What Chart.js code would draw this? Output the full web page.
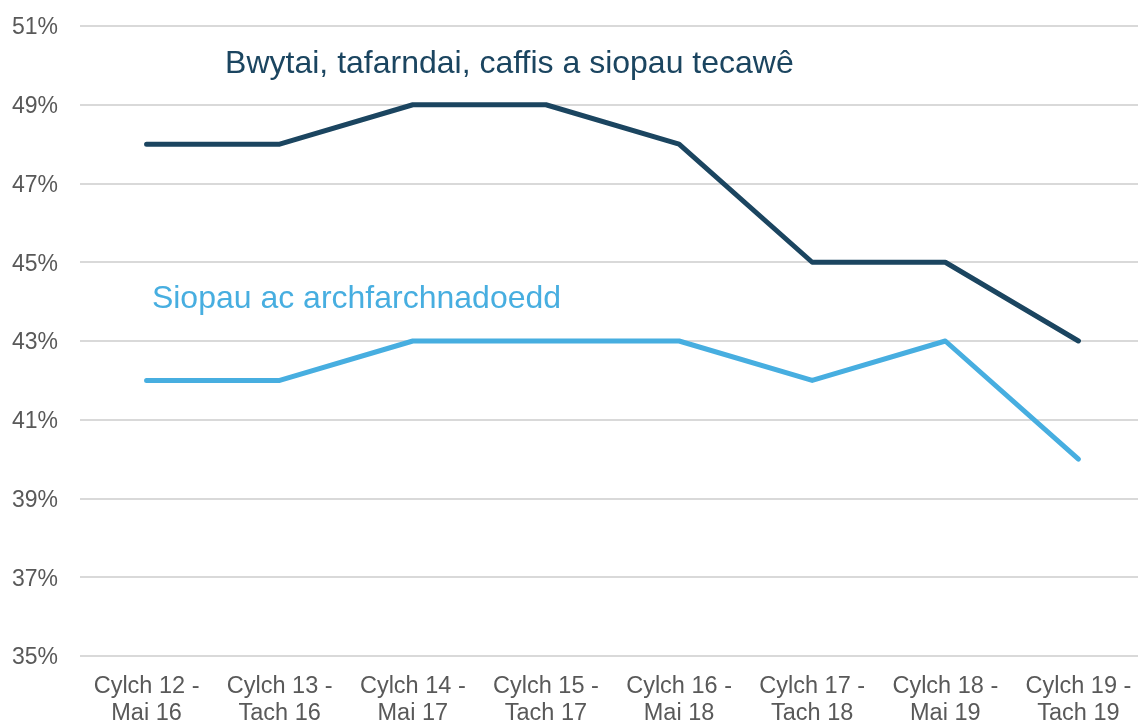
<!DOCTYPE html>
<html>
<head>
<meta charset="utf-8">
<script src="https://cdn.jsdelivr.net/npm/chart.js@4.4.1/dist/chart.umd.min.js"></script>
<style>
html,body{margin:0;padding:0;background:#fff;overflow:hidden;}
#wrap{position:relative;width:1146px;height:722px;}
</style>
</head>
<body>
<div id="wrap"><canvas id="c"></canvas></div>
<script>
const categories = [
  ["Cylch 12 -","Mai 16"],
  ["Cylch 13 -","Tach 16"],
  ["Cylch 14 -","Mai 17"],
  ["Cylch 15 -","Tach 17"],
  ["Cylch 16 -","Mai 18"],
  ["Cylch 17 -","Tach 18"],
  ["Cylch 18 -","Mai 19"],
  ["Cylch 19 -","Tach 19"]
];
const seriesNames = ["Bwytai, tafarndai, caffis a siopau tecawê", "Siopau ac archfarchnadoedd"];
const restaurants = [48, 48, 49, 49, 48, 45, 45, 43];
const shops = [42, 42, 43, 43, 43, 42, 43, 40];
const yTicks = [35, 37, 39, 41, 43, 45, 47, 49, 51];
const labelPositions = [[0.59, 50.02], [0.04, 44.07]];

const colors = ["#1b4560", "#47aee0"];

const labelPlugin = {
  id: 'seriesLabels',
  afterDatasetsDraw(chart) {
    const ctx = chart.ctx;
    const xs = chart.scales.x, ys = chart.scales.y;
    ctx.save();
    ctx.font = '32px "Liberation Sans", Arial, sans-serif';
    ctx.textBaseline = 'middle';
    ctx.textAlign = 'left';
    seriesNames.forEach((name, i) => {
      const p = labelPositions[i];
      const x0 = xs.getPixelForValue(0), x1 = xs.getPixelForValue(1);
      const px = x0 + (x1 - x0) * p[0];
      ctx.fillStyle = colors[i];
      ctx.fillText(name, px, ys.getPixelForValue(p[1]));
    });
    ctx.restore();
  }
};

new Chart(document.getElementById('c'), {
  type: 'line',
  data: {
    labels: categories,
    datasets: [
      { label: seriesNames[0], data: restaurants, borderColor: colors[0], backgroundColor: colors[0], borderWidth: 5, pointRadius: 0, tension: 0, borderCapStyle: 'round', borderJoinStyle: 'round' },
      { label: seriesNames[1], data: shops, borderColor: colors[1], backgroundColor: colors[1], borderWidth: 5, pointRadius: 0, tension: 0, borderCapStyle: 'round', borderJoinStyle: 'round' }
    ]
  },
  options: {
    responsive: true,
    maintainAspectRatio: false,
    animation: false,
    layout: { padding: { top: 26, right: 1, left: 0, bottom: 0 } },
    plugins: { legend: { display: false }, tooltip: { enabled: false } },
    scales: {
      x: {
        offset: true,
        grid: { display: false, drawTicks: false },
        border: { display: false },
        ticks: {
          color: '#595959',
          font: { family: '"Liberation Sans", Arial, sans-serif', size: 23.5, lineHeight: 1.15 },
          padding: 17,
          maxRotation: 0,
          autoSkip: false
        },
        afterFit(s) { s.height = 66; s.paddingLeft = 0; s.paddingRight = 0; }
      },
      y: {
        min: 35, max: 51,
        afterBuildTicks(s) { s.ticks = yTicks.map(v => ({ value: v })); },
        grid: { color: '#d9d9d9', lineWidth: 2, drawTicks: false },
        border: { display: false },
        ticks: {
          color: '#595959',
          font: { family: '"Liberation Sans", Arial, sans-serif', size: 23 },
          padding: 22,
          labelOffset: 2,
          callback: v => v + '%'
        },
        afterFit(s) { s.width = 80; s.paddingTop = 0; s.paddingBottom = 0; }
      }
    }
  },
  plugins: [labelPlugin]
});
</script>
</body>
</html>
